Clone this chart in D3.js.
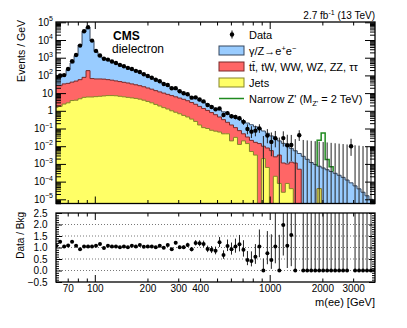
<!DOCTYPE html>
<html><head><meta charset="utf-8">
<script src="https://cdn.jsdelivr.net/npm/d3@7"></script>
<style>
body{margin:0;background:#fff}
svg text{font-family:"Liberation Sans",Arial,Helvetica,sans-serif;fill:#000}
</style>
</head><body>
<svg id="c" width="407" height="328"></svg>
<script>
// ---------- data (Events / GeV) ----------
const binEdges = [58.56,61.71,65.04,68.54,72.24,76.13,80.23,84.56,89.11,93.91,98.96,104.3,109.9,115.8,122.1,128.7,135.6,142.9,150.6,158.7,167.3,176.3,185.8,195.7,206.3,217.4,229.1,241.5,254.5,268.2,282.6,297.9,313.9,330.8,348.6,367.4,387.2,408.0,430.0,453.2,477.6,503.3,530.4,559.0,589.1,620.8,654.3,689.5,726.7,765.8,807.1,850.5,896.3,944.6,995.6,1049,1106,1165,1228,1294,1364,1437,1515,1596,1682,1773,1868,1969,2075,2187,2305,2429,2560,2698,2843,2996,3158,3328,3507,3696,3895,4105];

const jetsBkg = [1.58,1.78,2.40,2.82,3.80,3.98,4.79,5.75,6.03,6.03,
 6.31,6.61,6.92,7.24,7.24,7.08,6.61,6.17,5.75,5.37,
 5.01,4.57,3.98,3.39,2.82,2.29,1.86,1.51,1.26,1.00,
 0.83,0.68,0.55,0.447,0.339,0.251,0.158,0.112,0.100,0.0794,
 0.0708,0.0631,0.0501,0.0501,0.020,0.0316,0.0126,0.020,0.0141,0.005,
 0.00316,0,0.002,0.00063,0,0.0002,7.9e-5,2.5e-5,7.9e-5,4e-5,
 0,0,0,0,0,0,4e-5,0,0,0,
 0,0,0,0,0,0,0,0,0,0,0];

const ttbarBkg = [24.7,24.5,30.7,32.7,37.9,43.9,52.7,71.9,180,60.1,
 56.8,56.5,54.8,50.3,46.5,41.9,38.1,34.5,31.5,27.7,
 24.5,21.7,18.9,16.1,13.8,11.5,9.84,8.49,7.25,6.24,
 5.34,4.57,3.92,3.27,2.61,2.09,1.62,1.24,0.95,0.715,
 0.532,0.384,0.266,0.174,0.138,0.0804,0.0633,0.0301,0.019,0.0164,
 0.0134,0.0141,0.008,0.00731,0.00562,0.00231,0.00308,0.0011,0.00092,0.00122,
 0.00112,0.0005,0,0,0,0,0,0,0,0,
 0,0,0,0,0,0,0,0,0,0,0];

const dyBkg = [49.6,53.1,66.9,178,459,1270,5190,30120,49900,8847,
 2176,1085,829,667,535,430,344,275,226,181,
 144,115,89.1,69.6,54.2,42.4,32.0,23.1,17.2,13.2,
 9.63,7.35,5.30,4.04,3.08,2.45,1.94,1.60,1.24,1.03,
 0.81,0.673,0.555,0.468,0.379,0.315,0.255,0.213,0.171,0.141,
 0.109,0.0836,0.0624,0.0458,0.0324,0.025,0.0168,0.0134,0.0095,0.00633,
 0.00438,0.00339,0.00269,0.00182,0.0012,0.000933,0.0007,0.000589,0.000468,0.000372,
 0.000295,0.000229,0.000174,0.000123,8.51e-5,5.75e-5,3.89e-5,2.51e-5,1.58e-5,1.0e-5,6.3e-6];

const dataDensity = [82.0,99.3,104,231,626,1423,4828,31400,52100,9270,
 2418,1320,873,782,613,498,393,329,266,231,
 181,157,116,92.7,73.6,56.8,47.2,32.8,28.5,18.8,
 19.0,12.7,9.87,8.61,5.55,5.75,4.39,3.39,2.13,1.64,
 1.21,1.37,0.584,0.740,0.494,0.444,0.377,0.237,0.0938,0.0664,
 0.0756,0.102,0,0.0403,0.0175,0.0286,0,0.0287,0.0113,0.0117,
 0,0.0417,0,0,0,0,0,0,0,0,
 0,0,0,0,0.01,0,0,0,0,0,0];

const zprimeBins = [66,67,68,69];
const zprimeValues = [0.0207,0.0556,0.00133,0.00031];

const xMajorTicks = [100,1000];
const xMinorTicks = [70,80,90,200,300,400,500,600,700,800,900,2000,3000];
const xTickLabels = [70,100,200,300,400,1000,2000,3000];
const yDecades = [-5,-4,-3,-2,-1,0,1,2,3,4,5];
const ratioMajor = [-0.5,0,0.5,1,1.5,2,2.5];
const ratioGrid = [0,0.5,1,1.5,2];

// ---------- layout ----------
const L=56, R=375, T1=22, B1=203.5, T2=213, B2=282;
const COL = {dy:"#99ccff", dyL:"#34465e", tt:"#ff6666", ttL:"#7a2a2a", jets:"#ffff66", jetsL:"#85852a", zp:"#1f8a1f"};

const svg = d3.select("#c");
const x = d3.scaleLog().domain([60,4000]).range([L,R]);
const y = d3.scaleLog().domain([5.8e-6,1.04e5]).range([B1,T1]);
const yr = d3.scaleLinear().domain([-0.5,2.5]).range([B2,T2]);
const nb = dyBkg.length;
const width = d3.range(nb).map(i=>binEdges[i+1]-binEdges[i]);

const rows = d3.range(nb).map(i=>({jets:jetsBkg[i], ttbar:ttbarBkg[i], dy:dyBkg[i]}));
const stacked = d3.stack().keys(["jets","ttbar","dy"])(rows);
const bkg = rows.map((r,i)=>stacked[2][i][1]);

const yc = v => v>0 ? Math.min(y(v), B1+6) : B1+6;

const defs = svg.append("defs");
defs.append("clipPath").attr("id","cm").append("rect").attr("x",L).attr("y",T1).attr("width",R-L).attr("height",B1-T1);
defs.append("clipPath").attr("id","cr").append("rect").attr("x",L).attr("y",T2).attr("width",R-L).attr("height",B2-T2);

const gm = svg.append("g").attr("clip-path","url(#cm)");

function stepPoints(vals){
  const p = vals.map((v,i)=>({e:binEdges[i], v}));
  p.push({e:binEdges[nb], v:vals[nb-1]});
  return p;
}
const area = d3.area().x(d=>x(d.e)).y0(B1+6).y1(d=>yc(d.v)).curve(d3.curveStepAfter);
const line = d3.line().x(d=>x(d.e)).y(d=>yc(d.v)).curve(d3.curveStepAfter);

[[2,COL.dy,COL.dyL],[1,COL.tt,COL.ttL],[0,COL.jets,COL.jetsL]].forEach(([k,f,s])=>{
  const pts = stepPoints(stacked[k].map(d=>d[1]));
  gm.append("path").attr("d",area(pts)).attr("fill",f);
  gm.append("path").attr("d",line(pts)).attr("fill","none").attr("stroke",s).attr("stroke-width",1);
});

// Z' signal on top of background
const zpPts = [];
zpPts.push([binEdges[zprimeBins[0]], bkg[zprimeBins[0]]]);
zprimeBins.forEach((b,j)=>{
  const t = bkg[b]+zprimeValues[j];
  zpPts.push([binEdges[b], t]); zpPts.push([binEdges[b+1], t]);
});
const lastB = zprimeBins[zprimeBins.length-1];
zpPts.push([binEdges[lastB+1], bkg[lastB]]);
gm.append("path").attr("d", d3.line().x(d=>x(d[0])).y(d=>y(d[1]))(zpPts))
  .attr("fill","none").attr("stroke",COL.zp).attr("stroke-width",1.5);

// Poisson (Wilson-Hilferty) errors on counts
function poisErr(n){
  const lo = n>0 ? n - n*Math.pow(1-1/(9*n)-1/(3*Math.sqrt(n)),3) : 0;
  const m = n+1;
  const up = m*Math.pow(1-1/(9*m)+1/(3*Math.sqrt(m)),3) - n;
  return [lo, up];
}
const pts = d3.range(nb).map(i=>{
  const n = dataDensity[i]*width[i];
  const [lo,up] = poisErr(n);
  const c = Math.sqrt(binEdges[i]*binEdges[i+1]);
  return {c, v:dataDensity[i], lo:lo/width[i], up:up/width[i], b:bkg[i]};
});

// data error bars + markers (main)
pts.forEach(p=>{
  const y1 = yc(p.v+p.up);
  const y0 = (p.v-p.lo)>0 ? yc(p.v-p.lo) : B1+6;
  gm.append("line").attr("x1",x(p.c)).attr("x2",x(p.c)).attr("y1",y0).attr("y2",y1)
    .attr("stroke","#222").attr("stroke-width",1);
});
gm.selectAll("circle.d").data(pts.filter(p=>p.v>0)).join("circle")
  .attr("cx",p=>x(p.c)).attr("cy",p=>y(p.v)).attr("r",2.2).attr("fill","#000");

// ---------- ratio panel ----------
const gr = svg.append("g").attr("clip-path","url(#cr)");
ratioGrid.forEach(v=>{
  gr.append("line").attr("x1",L).attr("x2",R).attr("y1",yr(v)).attr("y2",yr(v))
    .attr("stroke","#555").attr("stroke-width",0.8).attr("stroke-dasharray","1 2");
});
pts.forEach(p=>{
  const r = p.v/p.b, rl = (p.v-p.lo)/p.b, ru = (p.v+p.up)/p.b;
  gr.append("line").attr("x1",x(p.c)).attr("x2",x(p.c))
    .attr("y1",Math.min(yr(rl),B2+5)).attr("y2",Math.max(yr(ru),T2-5))
    .attr("stroke","#222").attr("stroke-width",1);
  if (r<=2.6) gr.append("circle").attr("cx",x(p.c)).attr("cy",yr(r)).attr("r",2).attr("fill","#000");
});

// ---------- axes / ticks ----------
function ticks(axis, tr){
  svg.append("g").attr("transform",tr).call(axis)
    .call(g=>g.select(".domain").remove())
    .call(g=>g.selectAll(".tick line").attr("stroke","#000").attr("stroke-width",1));
}
[[T1,B1],[T2,B2]].forEach(([t,b])=>{
  ticks(d3.axisBottom(x).tickValues(xMinorTicks).tickSize(-3.5).tickFormat(""), `translate(0,${b})`);
  ticks(d3.axisBottom(x).tickValues(xMajorTicks).tickSize(-7).tickFormat(""), `translate(0,${b})`);
  ticks(d3.axisTop(x).tickValues(xMinorTicks).tickSize(-3.5).tickFormat(""), `translate(0,${t})`);
  ticks(d3.axisTop(x).tickValues(xMajorTicks).tickSize(-7).tickFormat(""), `translate(0,${t})`);
});
const yMaj = yDecades.map(e=>Math.pow(10,e));
const yMin = [];
for (let e=-6;e<=5;e++) for (let k=2;k<=9;k++){ const v=k*Math.pow(10,e); if (v>5.8e-6 && v<1.04e5) yMin.push(v); }
ticks(d3.axisLeft(y).tickValues(yMin).tickSize(-5).tickFormat(""), `translate(${L},0)`);
ticks(d3.axisLeft(y).tickValues(yMaj).tickSize(-10).tickFormat(""), `translate(${L},0)`);
ticks(d3.axisRight(y).tickValues(yMin).tickSize(-5).tickFormat(""), `translate(${R},0)`);
ticks(d3.axisRight(y).tickValues(yMaj).tickSize(-10).tickFormat(""), `translate(${R},0)`);
const rMin = d3.range(-5,26).map(k=>k/10).filter(v=>Math.abs(v*2-Math.round(v*2))>1e-6);
ticks(d3.axisLeft(yr).tickValues(rMin).tickSize(-3).tickFormat(""), `translate(${L},0)`);
ticks(d3.axisRight(yr).tickValues(rMin).tickSize(-3).tickFormat(""), `translate(${R},0)`);
ticks(d3.axisRight(yr).tickValues(ratioMajor).tickSize(-6).tickFormat(""), `translate(${R},0)`);
svg.append("g").attr("transform",`translate(${L},0)`)
  .call(d3.axisLeft(yr).tickValues(ratioMajor).tickSize(-6).tickPadding(8.5).tickFormat(d3.format(".1f")))
  .call(g=>g.select(".domain").remove())
  .call(g=>g.selectAll(".tick line").attr("stroke","#000"))
  .call(g=>g.selectAll("text").attr("font-size",10).attr("font-family","Liberation Sans, Arial, sans-serif"));
svg.append("g").attr("transform",`translate(0,${B2})`)
  .call(d3.axisBottom(x).tickValues(xTickLabels).tickSize(0).tickPadding(3).tickFormat(d3.format("d")))
  .call(g=>g.select(".domain").remove())
  .call(g=>g.selectAll("text").attr("font-size",10).attr("font-family","Liberation Sans, Arial, sans-serif"));

yDecades.forEach(e=>{
  const t = svg.append("text").attr("x",53).attr("y",y(Math.pow(10,e))).attr("dy","0.35em")
    .attr("text-anchor","end").attr("font-size",10);
  if (e===0) t.text("1");
  else if (e===1) t.text("10");
  else { t.append("tspan").text("10"); t.append("tspan").attr("dy",-4.5).attr("font-size",7).text(e<0?"\u2212"+(-e):String(e)); }
});

svg.append("rect").attr("x",L).attr("y",T1).attr("width",R-L).attr("height",B1-T1).attr("fill","none").attr("stroke","#000").attr("stroke-width",1.3);
svg.append("rect").attr("x",L).attr("y",T2).attr("width",R-L).attr("height",B2-T2).attr("fill","none").attr("stroke","#000").attr("stroke-width",1.3);

svg.append("text").attr("transform","translate(25,20) rotate(-90)").attr("text-anchor","end").attr("font-size",10.5).text("Events / GeV");
svg.append("text").attr("transform","translate(24,212) rotate(-90)").attr("text-anchor","end").attr("font-size",10).text("Data / Bkg");
svg.append("text").attr("x",375).attr("y",305.5).attr("text-anchor","end").attr("font-size",11).text("m(ee) [GeV]");

const hdr = svg.append("text").attr("x",375).attr("y",19).attr("text-anchor","end").attr("font-size",10);
hdr.append("tspan").text("2.7 fb");
hdr.append("tspan").attr("dy",-4).attr("font-size",7).text("-1");
hdr.append("tspan").attr("dy",4).text(" (13 TeV)");

svg.append("text").attr("x",113).attr("y",40).attr("font-size",12).attr("font-weight","bold").text("CMS");
svg.append("text").attr("x",112).attr("y",53).attr("font-size",12).text("dielectron");

const lg = svg.append("g");
const rowsY = [34.5,50.5,66.5,82.5,98.5];
const lx0 = 219, lw = 25, tx = 249;
lg.append("line").attr("x1",232).attr("x2",232).attr("y1",30.5).attr("y2",38.5).attr("stroke","#000");
lg.append("circle").attr("cx",232).attr("cy",rowsY[0]).attr("r",2.2).attr("fill","#000");
[[COL.dy,COL.dyL],[COL.tt,COL.ttL],[COL.jets,COL.jetsL]].forEach(([f,s],k)=>{
  lg.append("rect").attr("x",lx0).attr("y",rowsY[k+1]-4.5).attr("width",lw).attr("height",9).attr("fill",f).attr("stroke",s).attr("stroke-width",1);
});
lg.append("line").attr("x1",lx0).attr("x2",lx0+lw).attr("y1",rowsY[4]).attr("y2",rowsY[4]).attr("stroke",COL.zp).attr("stroke-width",1.5);

const lt = k => lg.append("text").attr("x",tx).attr("y",rowsY[k]+4).attr("font-size",11);
lt(0).text("Data");
const t1 = lt(1);
t1.append("tspan").text("\u03b3/Z\u2192e");
t1.append("tspan").attr("dy",-4).attr("font-size",7.5).text("+");
t1.append("tspan").attr("dy",4).text("e");
t1.append("tspan").attr("dy",-4).attr("font-size",7.5).text("\u2212");
lt(2).text("tt\u0304, tW, WW, WZ, ZZ, \u03c4\u03c4");
lt(3).text("Jets");
const t4 = lt(4);
t4.append("tspan").text("Narrow Z' (M");
t4.append("tspan").attr("dy",3).attr("font-size",7.5).text("Z'");
t4.append("tspan").attr("dy",-3).text(" = 2 TeV)");
</script>
</body></html>
